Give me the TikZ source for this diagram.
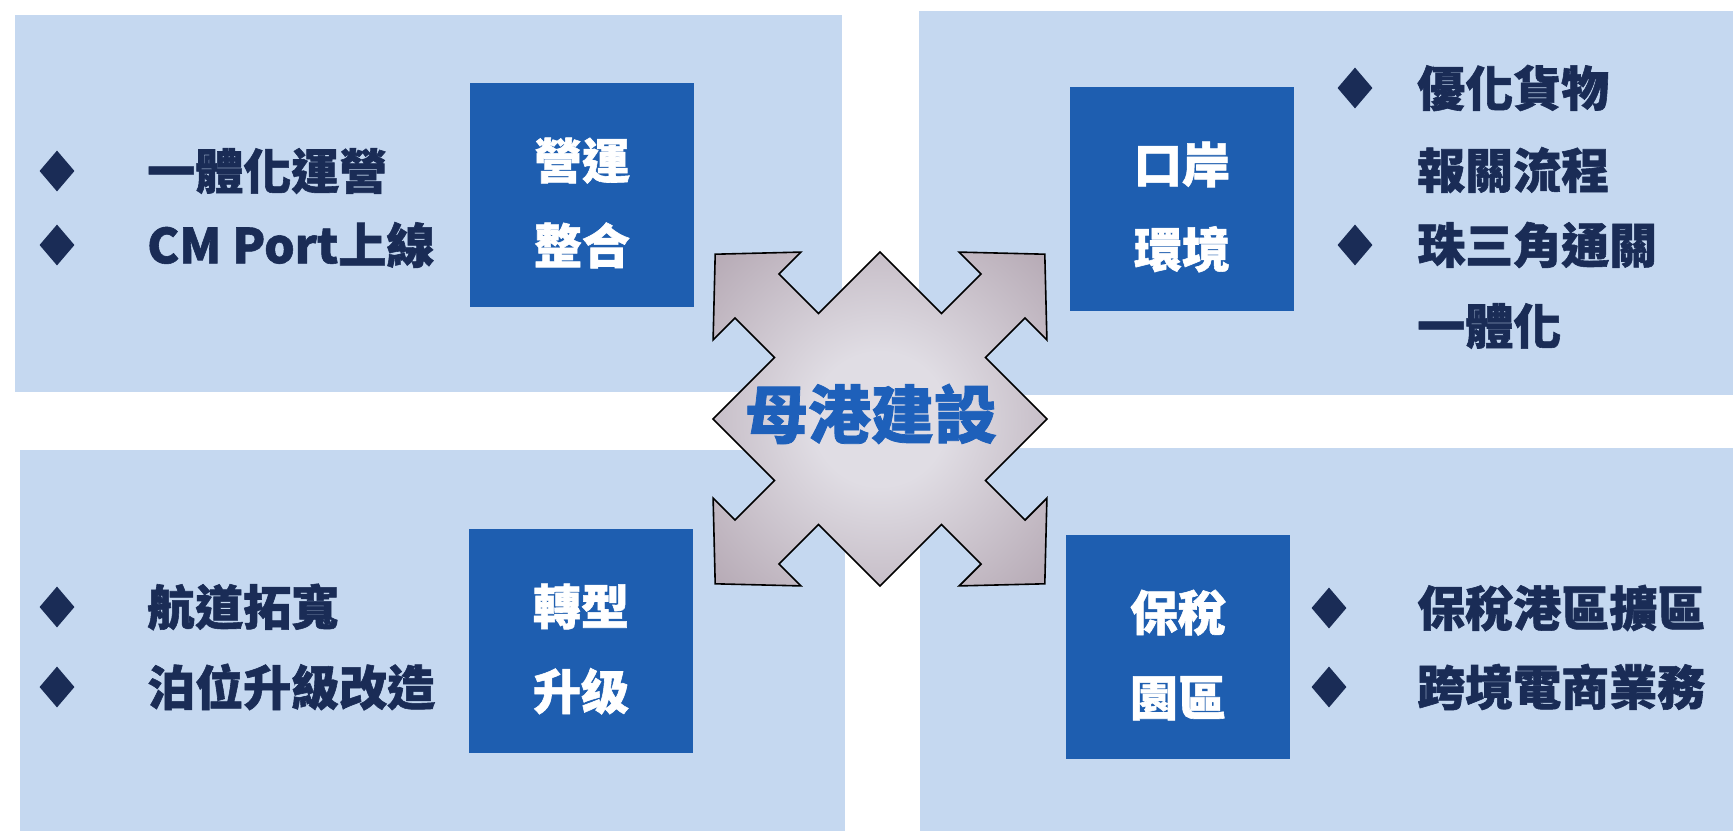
\documentclass[tikz,border=0pt]{standalone}
\usepackage{fontspec}
\newfontfamily\cjk{Noto Sans CJK TC}[BoldFeatures={FakeBold=1.2}]
\usetikzlibrary{positioning, shapes.geometric, calc}

\definecolor{panelblue}{RGB}{197,216,240}
\definecolor{tagblue}{RGB}{30,94,176}
\definecolor{inkblue}{RGB}{26,44,86}
\definecolor{hubblue}{RGB}{30,96,186}
\definecolor{hubin}{RGB}{224,221,228}
\definecolor{hubout}{RGB}{174,160,172}
\pgfdeclareradialshading{hubshade}{\pgfpoint{0bp}{0bp}}{color(0bp)=(hubin); color(10bp)=(hubin); color(40bp)=(hubout); color(50bp)=(hubout)}

\begin{document}
\begin{tikzpicture}[x=1pt, y=-1pt,
				panel/.style={fill=panelblue},
				tagbox/.style={fill=tagblue, minimum width=224pt, minimum height=224pt, inner sep=0pt},
				tagtext/.style={text=white, align=center, font=\cjk\bfseries\fontsize{48}{85}\selectfont},
				bullet/.style={diamond, fill=inkblue, minimum width=35pt, minimum height=41pt, inner sep=0pt},
				item/.style={anchor=west, inner sep=0pt, text=inkblue, font=\cjk\bfseries\fontsize{48}{58}\selectfont},
				hub/.style={draw=black, line width=1.6pt, line join=miter, shading=hubshade}
				]
				\useasboundingbox (0,0) rectangle (1733,831);
				% four panels
				\fill[panel] (15,15) rectangle (842,392);
				\fill[panel] (919,11) rectangle (1733,395);
				\fill[panel] (20,450) rectangle (845,831);
				\fill[panel] (920,448) rectangle (1733,831);

				% top left
				\node[tagbox] (ops) at (582,195) {};
				\node[tagtext] (opstext) at ([yshift=-8pt]ops.center) {營運\\整合};
				\node[bullet] (ops1) at (57,171) {};
				\node[bullet] (ops2) at (57,245) {};
				\node[item] at (147,171) {一體化運營};
				\node[item] at (147,245) {CM Port上線};

				% top right
				\node[tagbox] (port) at (1182,199) {};
				\node[tagtext] (porttext) at ([yshift=-8pt]port.center) {口岸\\環境};
				\node[bullet] (port1) at (1355,88) {};
				\node[bullet] (port2) at (1355,245) {};
				\node[item] at (1417,88) {優化貨物};
				\node[item] at (1417,170) {報關流程};
				\node[item] at (1417,245) {珠三角通關};
				\node[item] at (1417,326) {一體化};

				% bottom left
				\node[tagbox] (upg) at (581,641) {};
				\node[tagtext] (upgtext) at ([yshift=-8pt]upg.center) {轉型\\升级};
				\node[bullet] (upg1) at (57,607) {};
				\node[bullet] (upg2) at (57,687) {};
				\node[item] at (147,607) {航道拓寬};
				\node[item] at (147,687) {泊位升級改造};

				% bottom right
				\node[tagbox] (bond) at (1178,647) {};
				\node[tagtext] (bondtext) at ([yshift=-8pt]bond.center) {保稅\\園區};
				\node[bullet] (bond1) at (1329,608) {};
				\node[bullet] (bond2) at (1329,687) {};
				\node[item] at (1417,608) {保稅港區擴區};
				\node[item] at (1417,687) {跨境電商業務};

				% centre four-way arrow
				\draw[hub, shift={(880,419)}]
				(-105.4,-61.5) -- (-145,-101.1) -- (-166.9,-79.2) -- (-164.8,-164.8) -- (-79.2,-166.9) -- (-101.1,-145) -- (-61.5,-105.4) -- (0,-167)
				-- (61.5,-105.4) -- (101.1,-145) -- (79.2,-166.9) -- (164.8,-164.8) -- (166.9,-79.2) -- (145,-101.1) -- (105.4,-61.5) -- (167,0)
				-- (105.4,61.5) -- (145,101.1) -- (166.9,79.2) -- (164.8,164.8) -- (79.2,166.9) -- (101.1,145) -- (61.5,105.4) -- (0,167)
				-- (-61.5,105.4) -- (-101.1,145) -- (-79.2,166.9) -- (-164.8,164.8) -- (-166.9,79.2) -- (-145,101.1) -- (-105.4,61.5) -- (-167,0)
				-- cycle;
				\node[text=hubblue, font=\cjk\bfseries\fontsize{63}{70}\selectfont] (hubtext) at (871,414) {母港建設};
			\end{tikzpicture}
\end{document}
